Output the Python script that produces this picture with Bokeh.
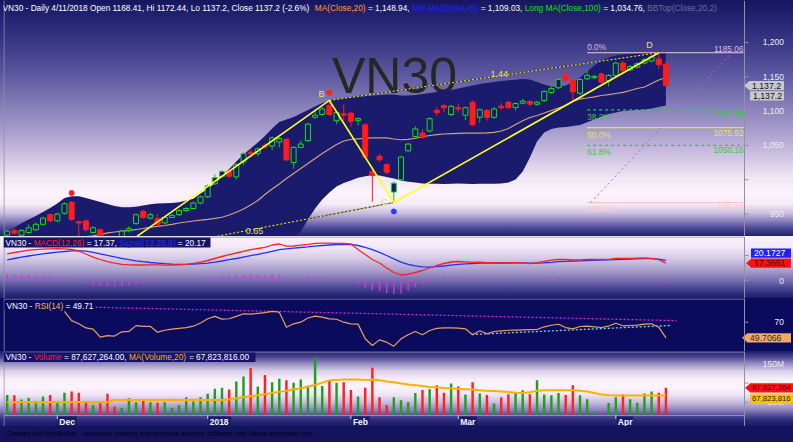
import numpy as np
from bokeh.plotting import figure
from bokeh.layouts import column
from bokeh.models import Range1d, Span, Div, ColumnDataSource
from bokeh.core.properties import value
from bokeh.embed import file_html
from bokeh.resources import INLINE

# ---------------- VN30 daily bars, 22 Nov 2017 .. 11 Apr 2018 ----------------
open_ = [919, 926, 919, 923, 927, 935, 949, 940, 951, 967,
         939, 940, 923, 927, 917, 914, 913, 926, 936, 954,
         944, 943, 937, 945, 949, 955, 958, 966, 975, 994,
         1005, 1012, 1004, 1026, 1040, 1038, 1050, 1049, 1055, 1059,
         1025, 1047, 1057, 1091, 1095, 1108, 1086, 1096, 1097, 1086,
         1080, 1012, 1034, 1022, 982, 1000, 1042, 1063, 1068, 1071,
         1101, 1108, 1095, 1105, 1094, 1113, 1091, 1101, 1091, 1107,
         1113, 1105, 1111.5, 1114, 1110, 1115.5, 1127, 1134, 1153, 1145,
         1126, 1147, 1148.5, 1154, 1144, 1152, 1170, 1160, 1164, 1170,
         1173, 1176, 1168.41]
high = [927, 929, 928, 935, 938, 946, 951, 952, 967, 969,
        940, 942, 932, 929, 919, 916, 927, 932, 951, 956,
        952, 950, 947, 950, 957, 960, 968, 977, 993, 1008,
        1014, 1014, 1024, 1040, 1044, 1047, 1053, 1063, 1062, 1060,
        1049, 1057, 1083, 1103, 1106, 1115.5, 1100, 1110, 1099, 1091,
        1082, 1016, 1038, 1024, 997, 1035, 1054, 1078, 1074, 1091,
        1106, 1110, 1109, 1111, 1107, 1115, 1104, 1103, 1106, 1112,
        1115, 1113, 1118, 1116, 1115, 1131, 1136, 1148, 1162, 1147,
        1148, 1160, 1153, 1156, 1154, 1172, 1173, 1167, 1171, 1177,
        1181, 1185.06, 1172.44]
low = [916, 920, 917, 921, 925, 933, 938, 938, 949, 940,
       915, 924, 921, 915, 905, 906, 910, 923, 934, 943,
       942, 933, 935, 944, 947, 953, 956, 964, 973, 992,
       1003, 1002, 1000, 1021, 1034, 1034, 1045, 1043, 1047, 1027,
       1016, 1046, 1055, 1089, 1093, 1093, 1081, 1086, 1077, 1079,
       1031, 968, 1026, 1008, 966.78, 998, 1040, 1061, 1060, 1069,
       1093, 1098, 1093, 1098, 1087, 1078, 1083, 1086, 1089, 1102,
       1103, 1101, 1110, 1107, 1108, 1113, 1125, 1132, 1143, 1113,
       1124, 1145, 1147, 1140, 1136, 1150, 1157, 1158, 1162, 1168,
       1171, 1161.7, 1137.2]
close = [925, 922, 926, 930, 935, 944, 940, 950, 965, 942,
         937, 927, 930, 918, 912, 911, 925, 929, 949, 945,
         949, 935, 945, 948, 955, 958, 966, 975, 991, 1003,
         1012, 1005, 1022, 1038, 1038, 1045, 1048, 1061, 1060, 1029,
         1047, 1052, 1081, 1094, 1103, 1095, 1098, 1094, 1085, 1089,
         1033, 1006, 1029, 1011, 995, 1033, 1052, 1074, 1062, 1089,
         1098, 1105, 1107, 1103, 1105, 1080, 1102, 1091, 1103, 1105,
         1105, 1111, 1114.5, 1110, 1113, 1128.6, 1133, 1146, 1145, 1128,
         1146, 1152, 1150.5, 1142, 1152, 1170, 1159, 1165, 1169, 1175,
         1179, 1167.5, 1137.2]
# volume in millions of shares
volume_m = [69, 68, 57, 61, 52, 65, 69, 48, 75, 78,
            75, 49, 43, 48, 72, 39, 35, 61, 50, 55,
            50, 49, 50, 35, 43, 63, 52, 63, 72, 85,
            88, 83, 104, 117, 139, 91, 121, 102, 111, 107,
            101, 109, 89, 167, 92, 107, 101, 102, 82, 65,
            88, 140, 63, 43, 63, 55, 50, 74, 82, 84,
            94, 75, 99, 91, 70, 102, 73, 69, 47, 63,
            71, 74, 81, 71, 107, 70, 68, 74, 69, 94,
            68, 58, 24, 20, 48, 63, 70, 58, 49, 73,
            78, 75, 87.627264]
vol_ma20_m = [50, 50, 50.5, 50.5, 50, 50, 50.5, 50.5, 50, 50,
              50.5, 50.5, 50, 50, 50.5, 56, 56, 56.5, 56, 56,
              56.5, 56, 56, 56.5, 56, 56, 56.5, 56, 55, 56,
              56, 57, 60, 63, 65.5, 68, 71, 74, 77, 80,
              84, 86, 91, 95, 101, 107, 108, 109, 109, 109,
              108, 109, 107, 104, 102, 99, 96, 94, 92, 90,
              89, 87, 86, 85, 84, 83, 81, 80, 79, 78,
              77, 75, 74, 76, 80, 81, 81, 81, 81, 81,
              80, 78, 74, 70, 68, 67.8, 67.8, 67.8, 67.8, 67.8,
              67.8, 67.8, 67.823816]
ma20 = [905.5, 906.3, 907.0, 907.7, 908.5, 909.9, 911.4, 912.8, 914.0, 914.8,
        915.5, 916.8, 918.3, 920.0, 922.6, 923.8, 924.9, 925.9, 927.4, 928.9,
        930.6, 932.1, 933.2, 935.0, 936.9, 938.3, 939.8, 941.0, 942.3, 943.7,
        945.3, 948.5, 952.6, 957.3, 963.1, 969.7, 978.4, 986.4, 993.7, 1001.7,
        1009.0, 1016.3, 1023.6, 1030.9, 1038.2, 1044.7, 1051.3, 1056.4, 1058.6, 1059.6,
        1060.4, 1061.1, 1061.1, 1061.1, 1059.3, 1058.2, 1058.9, 1060.4, 1062.3, 1064.4,
        1065.6, 1066.6, 1067.3, 1067.6, 1067.8, 1067.8, 1067.8, 1068.4, 1069.1, 1071.0,
        1074.6, 1080.5, 1085.9, 1090.7, 1093.6, 1097.2, 1100.9, 1104.5, 1108.2, 1114.0,
        1117.7, 1119.1, 1120.8, 1122.7, 1123.9, 1125.7, 1127.4, 1130.0, 1132.9, 1135.1,
        1140.2, 1145.3, 1148.94]
bb_top = [924.5, 930.3, 936.4, 942.0, 947.1, 952.9, 958.8, 965.3, 973.3, 976.0,
          976.0, 973.3, 970.4, 967.5, 964.6, 961.7, 959.9, 959.9, 960.6, 962.4,
          964.3, 965.3, 965.8, 966.2, 967.1, 969.7, 972.2, 979.9, 986.4, 995.2,
          1004.7, 1015.6, 1026.5, 1036.7, 1045.5, 1054.2, 1063.7, 1074.6, 1084.1, 1087.8,
          1091.4, 1096.5, 1101.6, 1106.7, 1111.8, 1115.5, 1116.9, 1118.4, 1119.4, 1120.4,
          1121.6, 1122.7, 1123.5, 1124.2, 1124.2, 1122.7, 1122.7, 1123.5, 1124.9, 1126.4,
          1127.8, 1129.3, 1130.8, 1132.9, 1135.1, 1137.3, 1139.5, 1141.0, 1142.4, 1143.9,
          1144.9, 1145.8, 1146.8, 1146.1, 1142.4, 1138.8, 1135.9, 1135.1, 1137.3, 1141.7,
          1149.0, 1157.7, 1166.5, 1173.8, 1178.1, 1181.0, 1182.5, 1183.2, 1184.0, 1184.7,
          1185.4, 1185.4, 1186.2]
bb_bot = [886.5, 882.0, 877.6, 873.4, 869.9, 866.9, 864.0, 860.3, 855.3, 855.4,
          858.4, 864.1, 869.8, 875.7, 880.6, 885.9, 889.9, 891.9, 894.2, 895.4,
          896.9, 898.9, 900.6, 903.8, 906.7, 906.9, 907.4, 902.1, 898.2, 892.2,
          885.9, 881.4, 878.7, 877.9, 880.7, 885.2, 893.1, 898.2, 903.3, 904.0,
          915.7, 924.5, 942.0, 958.0, 971.1, 981.3, 990.1, 995.2, 998.8, 1002.8,
          1005.0, 1006.9, 1006.1, 1003.9, 1001.7, 998.8, 996.9, 995.9, 994.5, 994.2,
          994.0, 993.8, 994.0, 994.3, 994.0, 993.7, 994.0, 994.2, 994.0, 994.5,
          995.9, 1000.3, 1011.9, 1032.4, 1055.7, 1068.8, 1073.9, 1076.1, 1076.8, 1078.3,
          1079.7, 1083.8, 1087.8, 1092.1, 1095.8, 1098.0, 1100.1, 1100.9, 1101.6, 1102.3,
          1103.8, 1106.0, 1108.2]
macd = [26.7, 28, 29.2, 30.3, 30.9, 31.4, 31.7, 31.8, 31.7, 31,
        29.5, 26.5, 23.3, 21, 18.8, 17.4, 16.2, 15.7, 15.5, 15.5,
        15.7, 15.6, 15.4, 15.5, 15.6, 16.2, 17.2, 18.3, 20, 22,
        24, 25.8, 27.5, 29.2, 30.8, 32, 33.2, 35.5, 36.5, 34.3,
        34.5, 35.3, 36.2, 37.2, 37.4, 37.4, 37.2, 37, 36.6, 31,
        26, 21, 17.5, 12.5, 8, 5.5, 6.3, 8, 10, 12.5,
        15, 17, 18.5, 19, 18.6, 18.2, 18.3, 17.8, 17.8, 17.6,
        17.7, 17.8, 17.6, 16.8, 17.8, 19, 20.3, 21, 21, 20.5,
        20.7, 21, 21, 21, 21.2, 22, 22.2, 22.2, 22.4, 22.6,
        22, 20.8, 17.3651]
signal = [20.7, 22, 23.3, 24.5, 25.6, 26.6, 27.5, 28.3, 29, 29.6,
          29.8, 29.4, 28.2, 26.7, 25.1, 23.6, 22.2, 20.8, 19.7, 18.8,
          18, 17.4, 16.8, 16.4, 16.2, 16.1, 16.4, 16.8, 17.4, 18.4,
          19.5, 20.8, 22, 23.4, 24.8, 26.2, 27.6, 29.2, 30.8, 31.6,
          32.3, 33, 33.6, 34.3, 35, 35.5, 35.8, 36, 36.1, 35,
          33.2, 30.8, 28.1, 25, 21.6, 18.4, 16.2, 14.6, 13.7, 13.4,
          13.8, 14.5, 15.3, 16.1, 16.6, 17, 17.3, 17.4, 17.5, 17.5,
          17.5, 17.6, 17.6, 17.4, 17.4, 17.7, 18.2, 18.8, 19.2, 19.5,
          19.7, 20, 20.2, 20.4, 20.6, 20.9, 21.2, 21.4, 21.6, 21.8,
          21.8, 21.4, 20.1727]
macd_hist = [6, 6, 5.9, 5.8, 5.3, 4.8, 4.2, 3.5, 2.7, 1.4,
             -0.3, -2.9, -4.9, -5.7, -6.3, -6.2, -6, -5.1, -4.2, -3.3,
             -2.3, -1.8, -1.4, -0.9, -0.6, 0.1, 0.8, 1.5, 2.6, 3.6,
             4.5, 5, 5.5, 5.8, 6, 5.8, 5.6, 6.3, 5.7, 2.7,
             2.2, 2.3, 2.6, 2.9, 2.4, 1.9, 1.4, 1, 0.5, -4,
             -7.2, -9.8, -10.6, -12.5, -13.6, -12.9, -9.9, -6.6, -3.7, -0.9,
             1.2, 2.5, 3.2, 2.9, 2, 1.2, 1, 0.4, 0.3, 0.1,
             0.2, 0.2, 0, -0.6, 0.4, 1.3, 2.1, 2.2, 1.8, 1,
             1, 1, 0.8, 0.6, 0.6, 1.1, 1, 0.8, 0.8, 0.8,
             0.2, -0.6, -2.8]
# RSI(14); the first bars of the window carry no plotted value
rsi14 = [None, None, None, None, None, None, None, None, 84, 72,
         68, 62.5, 61, 50.5, 52.5, 52, 57.5, 58, 65.5, 64.5,
         64.5, 57, 59.5, 61, 62, 63, 64.8, 69, 74.5, 77.5,
         74, 74.5, 77.5, 80.9, 80.5, 81.5, 82.5, 84, 83, 63.5,
         67.9, 70, 75.5, 77.8, 76.5, 74.4, 73.8, 70, 67.9, 67.5,
         48.4, 39.7, 47, 44, 38.8, 48.4, 53.6, 57.9, 53.6, 59.2,
         62, 62.5, 62.5, 62.2, 61.4, 53.6, 58.8, 54.9, 57.9, 58.8,
         59.5, 59.8, 60.1, 60.3, 60.5, 64, 66, 67.3, 63, 61.4,
         64.4, 64.8, 64, 63.1, 65, 68.7, 65.3, 65.7, 66.1, 67.5,
         67.9, 63.5, 49.7066]

month_ticks = [7, 28, 48, 63, 85]
month_labels = ["Dec", "2018", "Feb", "Mar", "Apr"]
price_ticks = [950, 1000, 1050, 1100, 1150, 1200]
macd_ticks, macd_tick_labels = [0, 25], ["0", ""]
rsi_ticks, rsi_tick_labels = [70], ["70"]
vol_ticks, vol_tick_labels = [50, 100, 150], ["50M", "100M", "150M"]

# ABCD pattern pivots (bar index, price) and the two swing ratios
abcd_idx = [14, 45, 54, 91]
abcd_price = [887.0, 1115.5, 966.78, 1185.06]
ratio_ac = "0.65"
ratio_bd = "1.44"
pivot_hi = [9, 45]
pivot_lo = [54]

# Fibonacci retracement of the C -> D swing
fib_pct = ["0.0%", "38.2%", "50.0%", "61.8%", "100.0%"]
fib_price = [1185.06, 1101.68, 1075.92, 1050.16, 966.78]
fib_from = 81
fib_trend_idx = [81.5, 101.2]
fib_trend_price = [966.78, 1185.06]

# RSI trend lines
rsi_upper_idx, rsi_upper_val = [9, 93.5], [90.1, 72.0]
rsi_lower_idx, rsi_lower_val = [64.9, 92.6], [54.0, 65.7]

mid_ma45_last = "1,109.03"
long_ma100_last = "1,034.76"

# ---------------- geometry & styling ----------------
FONT = "Liberation Sans"
FS = 8.3
WHITE = "#ffffff"
NAVY = "#1b1b6d"
GREEN = "#14e014"
RED = "#ff1c1c"
AXIS_GREY = "#9090a6"

FL, SEP, WR = 3.0, 744.0, 793.0   # frame left, price-scale separator, right edge (px)
BAR0, BARW = 6.7, 7.16            # px centre of bar 0, px per bar


def bx(px):
    return (px - BAR0) / BARW


xr = Range1d(bx(FL), bx(WR))

PANEL = {
    "main": dict(top=1261.22, k=1.4577, h=236),
    "macd": dict(top=44.0, k=1.0, h=62),
    "rsi": dict(top=100.8, k=1.3, h=53),
    "vol": dict(top=182.0, k=2.6, h=75),
}


def vy(name, py):
    d = PANEL[name]
    return d["top"] - py * d["k"]


def kpx(name, px):
    return PANEL[name]["k"] * px


_AW = {' ': 278, '!': 278, '%': 889, '(': 333, ')': 333, ',': 278, '-': 333, '.': 278,
       '/': 278, ':': 278, '=': 584, '+': 584}
for ch in "0123456789":
    _AW[ch] = 556
_AW.update(dict(zip("ABCDEFGHIJKLMNOPQRSTUVWXYZ",
                    [667, 667, 722, 722, 667, 611, 778, 722, 278, 500, 667, 556, 833,
                     722, 778, 667, 778, 722, 667, 611, 722, 667, 944, 667, 667, 611])))
_AW.update(dict(zip("abcdefghijklmnopqrstuvwxyz",
                    [556, 556, 500, 556, 556, 278, 556, 556, 222, 222, 500, 222, 833,
                     556, 556, 556, 556, 333, 500, 278, 556, 500, 722, 500, 500, 500])))


def tw(s, fs):
    return sum(_AW.get(ch, 556) for ch in s) * fs / 1000.0


def make_fig(name, css, top_line=True):
    d = PANEL[name]
    p = figure(width=793, height=d["h"], x_range=xr,
               y_range=Range1d(d["top"] - d["h"] * d["k"], d["top"]),
               output_backend="svg", toolbar_location=None,
               x_axis_location=None, y_axis_location=None,
               min_border_left=3, min_border_right=0,
               min_border_top=0, min_border_bottom=0,
               styles={"background": css})
    p.background_fill_alpha = 0
    p.border_fill_alpha = 0
    p.outline_line_color = None
    p.xgrid.visible = False
    p.ygrid.visible = False
    # panel frame: left edge, top edge and the price-scale separator
    p.segment(x0=[bx(3.5)], y0=[vy(name, 0)], x1=[bx(3.5)], y1=[vy(name, d["h"])],
              line_color=AXIS_GREY, line_width=1)
    if top_line:
        p.segment(x0=[bx(3.5)], y0=[vy(name, 0.5)], x1=[bx(SEP)], y1=[vy(name, 0.5)],
                  line_color=AXIS_GREY, line_width=1)
    p.add_layout(Span(location=bx(SEP), dimension="height", line_color=AXIS_GREY,
                      line_width=1))
    return p


def price_scale(p, ticks, labels):
    p.segment(x0=[bx(SEP)] * len(ticks), y0=ticks, x1=[bx(SEP + 4)] * len(ticks), y1=ticks,
              line_color=AXIS_GREY, line_width=1)
    keep = [(t, s) for t, s in zip(ticks, labels) if s]
    p.text(x=[bx(783.5)] * len(keep), y=[t for t, _ in keep], text=[s for _, s in keep],
           text_font=value(FONT), text_font_size="8.5px", text_color="#ececf6",
           text_align="right", text_baseline="middle")


def put_segments(p, panel, segs, x_px, y_px, fs=FS):
    xs, ys, ts, cs = [], [], [], []
    cur = x_px
    for t, col in segs:
        lead = len(t) - len(t.lstrip(" "))
        body = t.strip(" ")
        if body:
            xs.append(bx(cur + tw(" " * lead, fs)))
            ys.append(vy(panel, y_px))
            ts.append(body)
            cs.append(col)
        cur += tw(t, fs)
    p.text(x=xs, y=ys, text=ts, text_color=cs, text_font=value(FONT),
           text_font_size=f"{fs}px", text_align="left", text_baseline="middle")
    return cur


def title_box(p, panel, x0, x1, y0, y1, color):
    p.quad(left=[bx(x0)], right=[bx(x1)], top=[vy(panel, y0)], bottom=[vy(panel, y1)],
           fill_color=color, line_color=None)


def badge(p, panel, x0, x1, y_val, text, bg, fg, arrow=False, fs=8.7, pad=3):
    hh = kpx(panel, 4.6)
    p.quad(left=[bx(x0)], right=[bx(x1)], top=[y_val + hh], bottom=[y_val - hh],
           fill_color=bg, line_color=None)
    if arrow:
        p.patch(x=[bx(x0 - 5), bx(x0 + 0.5), bx(x0 + 0.5)], y=[y_val, y_val + hh, y_val - hh],
                fill_color=bg, line_color=None)
    p.text(x=[bx(x0 + pad)], y=[y_val], text=[text], text_font=value(FONT),
           text_font_size=f"{fs}px", text_color=fg, text_align="left",
           text_baseline="middle")


def fmt_price(v):
    return f"{v:.2f}".rstrip("0").rstrip(".")


n = len(close)
idx = np.arange(n)
o_a, h_a, l_a, c_a = (np.array(a, dtype=float) for a in (open_, high, low, close))
up = c_a >= o_a

# ---------------- price panel ----------------
MAIN_CSS = ("linear-gradient(to bottom, #16165f 0px, #232372 18px, #3c3a86 45px, "
            "#5e58a0 75px, #857eb8 105px, #ada3cf 135px, #d4c9e4 160px, #f0e6f4 178px, "
            "#fcf3fc 192px, #f6ecf8 204px, #cbbfe0 213px, #8a80bc 221px, #4c4896 228px, "
            "#22226e 236px)")
main = make_fig("main", MAIN_CSS, top_line=False)
price_scale(main, price_ticks, [f"{t:,}" for t in price_ticks])

main.text(x=[bx(394)], y=[vy("main", 75)], text=["VN30"], text_font=value(FONT),
          text_font_size="50px", text_color="#262626", text_align="center",
          text_baseline="alphabetic")

main.varea(x=idx, y1=bb_bot, y2=bb_top, fill_color=NAVY)

fib_end = bx(743)
fib_line_col = ["#f6c8dc", "#2ccc2c", "#e6e040", "#2ccc2c", "#ffc4c4"]
fib_text_col = ["#dcbce2", "#34d034", "#e8e070", "#34d034", "#ffc8c8"]
fib_dash = ["solid", "3 3", "solid", "3 3", "solid"]
for lvl, price, lc, tc, dash in zip(fib_pct, fib_price, fib_line_col, fib_text_col, fib_dash):
    main.line([fib_from, fib_end], [price, price], line_color=lc, line_width=1.2,
              line_dash=dash)
    above = lvl == "0.0%"
    yt = price + kpx("main", 1) if above else price - kpx("main", 2)
    base = "bottom" if above else "top"
    main.text(x=[fib_from], y=[yt], text=[lvl], text_color=tc, text_font=value(FONT),
              text_font_size="8.3px", text_align="left", text_baseline=base)
    main.text(x=[fib_end], y=[yt], text=[f"{price:.2f}"], text_color=tc,
              text_font=value(FONT), text_font_size="8.3px", text_align="right",
              text_baseline=base)
main.line(fib_trend_idx, fib_trend_price, line_color="#cc55dd", line_width=1,
          line_dash="2 3")

main.line(idx, ma20, line_color="#d4a080", line_width=1.2)

src = ColumnDataSource(dict(
    x=idx.tolist(), h=h_a.tolist(), l=l_a.tolist(),
    top=np.maximum(o_a, c_a).tolist(), bot=np.minimum(o_a, c_a).tolist(),
    fill=[NAVY if u else RED for u in up],
    line=[GREEN if u else RED for u in up],
    wick=["#10c010" if u else RED for u in up]))
main.segment(x0="x", y0="h", x1="x", y1="l", line_color="wick", line_width=1, source=src)
main.vbar(x="x", width=0.7, top="top", bottom="bot", fill_color="fill",
          line_color="line", line_width=1, source=src)

ax_, bx_, cx_, dx_ = abcd_idx
ap, bp, cp, dp = abcd_price
for xs, ys in (([ax_, cx_], [ap, cp]), ([bx_, dx_], [bp, dp])):
    main.line(xs, ys, line_color="#2a2a2a", line_width=1)
    main.line(xs, ys, line_color="#f0f040", line_width=1, line_dash="2 2")
main.line([ax_, bx_, cx_, dx_], [ap, bp, cp, dp], line_color="#ffff1e", line_width=1.6)

for (px_, py_, lab, xo, yo, base) in ((bx_, bp, "B", -5, -1, "bottom"),
                                      (dx_, dp, "D", -6, -3, "bottom"),
                                      (cx_, cp, "C", -6, 0, "middle")):
    main.text(x=[px_], y=[py_], text=[lab], x_offset=xo, y_offset=yo, text_color="#e8e070",
              text_font=value(FONT), text_font_size="9px", text_align="right",
              text_baseline=base)
t_ac = 33.3
main.text(x=[t_ac], y=[ap + (cp - ap) * (t_ac - ax_) / (cx_ - ax_)], text=[ratio_ac],
          text_color="#e8e060", text_font=value(FONT), text_font_size="9px",
          text_align="left", text_baseline="middle")
t_bd = 67.5
main.text(x=[t_bd], y=[bp + (dp - bp) * (t_bd - bx_) / (dx_ - bx_)], text=[ratio_bd],
          text_color="#e8e060", text_font=value(FONT), text_font_size="9px",
          text_align="left", text_baseline="bottom")

main.scatter(x=pivot_hi, y=[h_a[i] + kpx("main", 8) for i in pivot_hi], marker="circle",
             size=5, fill_color="#ff2020", line_color="#ff2020")
main.scatter(x=pivot_lo, y=[l_a[i] - kpx("main", 9) for i in pivot_lo], marker="circle",
             size=5, fill_color="#2040ff", line_color="#2040ff")

pct = (close[-1] / close[-2] - 1) * 100
head = [
    (f"VN30 - Daily 4/11/2018 Open {fmt_price(open_[-1])}, Hi {fmt_price(high[-1])}, "
     f"Lo {fmt_price(low[-1])}, Close {fmt_price(close[-1])} ({pct:.1f}%) ", WHITE),
    ("MA(Close,20)", "#ff9a3c"),
    (f" = {ma20[-1]:,.2f}, ", WHITE),
    ("Mid MA(Close,45)", "#2222ff"),
    (f" = {mid_ma45_last}, ", WHITE),
    ("Long MA(Close,100)", "#10e010"),
    (f" = {long_ma100_last}, ", WHITE),
    ("BBTop(Close,20,2)", "#6c6c9c"),
]
put_segments(main, "main", head, 2, 7)

badge(main, "main", 748.5, 783.5, close[-1], f"{close[-1]:,.1f}", "#c8c8cc", "#101010",
      arrow=True)
badge(main, "main", 749.5, 783.5, close[-1] - kpx("main", 10.3), f"{close[-1]:,.1f}",
      "#c8c8cc", "#101010")

# ---------------- MACD panel ----------------
MACD_CSS = ("linear-gradient(to bottom, #fcf2fc 0px, #f4eaf8 10px, #d6cce6 22px, "
            "#aaa0cc 34px, #7870b0 44px, #444090 53px, #1c1c68 62px)")
mp = make_fig("macd", MACD_CSS)
price_scale(mp, macd_ticks, macd_tick_labels)
mp.vbar(x=idx, width=0.18, top=macd_hist, bottom=0, fill_color="#e030e0",
        line_color=None)
mp.line(idx, signal, line_color="#2030ff", line_width=1.3)
mp.line(idx, macd, line_color="#ff2020", line_width=1.3)
title_box(mp, "macd", 3, 210, 1, 11, "#14146a")
put_segments(mp, "macd", [("VN30 - ", WHITE), ("MACD(12,26)", "#ff2020"),
                          (f" = {macd[-1]:.2f}, ", WHITE), ("Signal(12,26,9)", "#2a2aff"),
                          (f" = {signal[-1]:.2f}", WHITE)], 5, 6)
badge(mp, "macd", 750.5, 790.5, macd[-1] + kpx("macd", 10), f"{signal[-1]:.4f}",
      "#2020ff", "#ffffff")
badge(mp, "macd", 750.5, 790.5, macd[-1], f"{macd[-1]:.4f}", "#ff1010", "#3a0000",
      arrow=True)

# ---------------- RSI panel ----------------
rp = make_fig("rsi", "#0b0b5e")
price_scale(rp, rsi_ticks, rsi_tick_labels)
rp.line(rsi_upper_idx, rsi_upper_val, line_color="#e020e0", line_width=1.3,
        line_dash="2 2")
rp.line(rsi_lower_idx, rsi_lower_val, line_color="#70e0e0", line_width=1.3,
        line_dash="2 2")
rp.line(idx, np.array(rsi14, dtype=float), line_color="#eaa060", line_width=1.2)
title_box(rp, "rsi", 4, 94, 2, 12, "#0b0b5e")
put_segments(rp, "rsi", [("VN30 - ", WHITE), ("RSI(14)", "#ffb468"),
                         (f" = {rsi14[-1]:.2f}", WHITE)], 6, 7.5)
badge(rp, "rsi", 746.5, 790.5, rsi14[-1], f"{rsi14[-1]:.4f}", "#f4a860", "#303030",
      arrow=True)

# ---------------- volume panel ----------------
VOL_CSS = ("linear-gradient(to bottom, #1c1c6a 0px, #4a4592 6px, #9a90c4 13px, "
           "#d8cee8 20px, #f8eef8 28px, #fcf4fc 36px, #eee4f4 44px, #c4b8dc 52px, "
           "#8c82bc 59px, #56509c 64px, #2c2a7c 69px, #1a1a66 75px)")
vp = make_fig("vol", VOL_CSS)
price_scale(vp, vol_ticks, vol_tick_labels)
base = vy("vol", 64)
vp.vbar(x=idx, width=0.34, top=volume_m, bottom=base,
        fill_color=["#1f9f1f" if u else "#ff2020" for u in up], line_color=None)
vp.line(idx, vol_ma20_m, line_color="#ffb000", line_width=2)
vp.segment(x0=[bx(3.5)], y0=[base], x1=[bx(SEP)], y1=[base], line_color=AXIS_GREY,
           line_width=1)
vp.segment(x0=month_ticks, y0=[base] * len(month_ticks), x1=month_ticks,
           y1=[vy("vol", 67.5)] * len(month_ticks), line_color="#c8c8d8")
for t, lab in zip(month_ticks, month_labels):
    w = tw(lab, 8.5) * 1.08
    vp.quad(left=[t + 1 / BARW], right=[t + (3 + w) / BARW], top=[vy("vol", 65)],
            bottom=[vy("vol", 74.5)], fill_color="#1a1a66", line_color=None)
vp.text(x=[t + 2 / BARW for t in month_ticks], y=[vy("vol", 70)] * len(month_ticks),
        text=month_labels, text_color="#f4f4ff", text_font=value(FONT),
        text_font_size="8.5px", text_font_style="bold", text_align="left",
        text_baseline="middle")
title_box(vp, "vol", 3, 255, 1, 10.5, "#14146a")
put_segments(vp, "vol", [("VN30 - ", WHITE), ("Volume", "#ff2020"),
                         (f" = {volume_m[-1] * 1e6:,.2f}, ", WHITE),
                         ("MA(Volume,20)", "#ffb000"),
                         (f" = {vol_ma20_m[-1] * 1e6:,.2f}", WHITE)], 5, 5.5)
badge(vp, "vol", 749.5, 800, volume_m[-1], f"{volume_m[-1] * 1e6:,.0f}", "#ff1010",
      "#300000", arrow=True, fs=7.7, pad=2)
badge(vp, "vol", 749.5, 800, volume_m[-1] - kpx("vol", 11), f"{vol_ma20_m[-1] * 1e6:,.0f}",
      "#ffc000", "#202000", fs=7.7, pad=2)

footer = Div(text=("<div style='padding-left:7px;line-height:15px;white-space:nowrap;'>"
                   "Created with AmiBroker - advanced charting and technical analysis "
                   "software. http://www.amibroker.com</div>"),
             width=793, height=16, margin=0,
             styles={"background-color": "#14145e", "color": "#000018",
                     "font-family": FONT, "font-size": "6.7px", "overflow": "hidden"})

layout = column(main, mp, rp, vp, footer, spacing=0)
open("out.html", "w").write(file_html(layout, INLINE, title="VN30"))
